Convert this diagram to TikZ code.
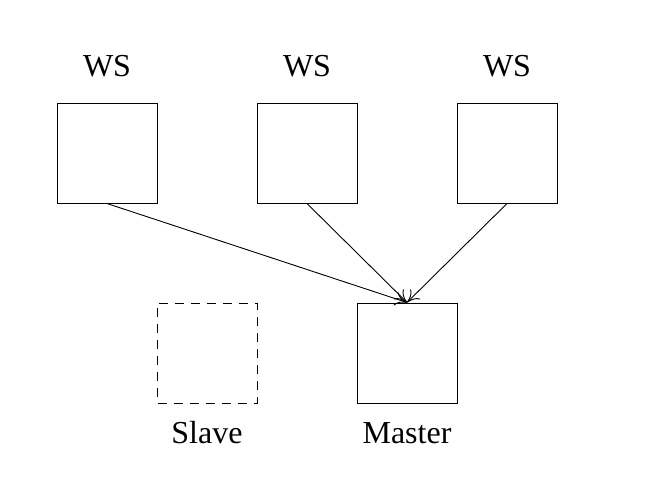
\documentclass[tikz,border=0pt]{standalone}
\usepackage{fontspec}
\setmainfont{Liberation Serif}
\usetikzlibrary{arrows.meta}
\begin{document}
\begin{tikzpicture}[x=1pt,y=-1pt,
  boxst/.style={draw,line width=1pt,minimum width=100pt,minimum height=100pt,inner sep=0pt},
  dashbox/.style={boxst,dash pattern=on 9pt off 7pt,dash phase=-1pt},
  lbl/.style={font=\fontsize{32}{36}\selectfont,anchor=base,inner sep=0pt},
  conn/.style={line width=0.9pt,-{To[length=12pt,width=14pt,line width=0.9pt]}}]
\useasboundingbox (0,0) rectangle (646,480);
\node[boxst] (w1) at (107,153) {};
\node[boxst] (w2) at (307,153) {};
\node[boxst] (w3) at (507,153) {};
\node[dashbox] (slave) at (207,353) {};
\node[boxst] (master) at (407,353) {};
\node[lbl] (l1) at (107,76) {WS};
\node[lbl] (l2) at (307,76) {WS};
\node[lbl] (l3) at (507,76) {WS};
\node[lbl] (ls) at (207,443) {Slave};
\node[lbl] (lm) at (407,443) {Master};
\draw[conn] (w1.south) -- (master.north);
\draw[conn] (w2.south) -- (master.north);
\draw[conn] (w3.south) -- (master.north);
\end{tikzpicture}
\end{document}
